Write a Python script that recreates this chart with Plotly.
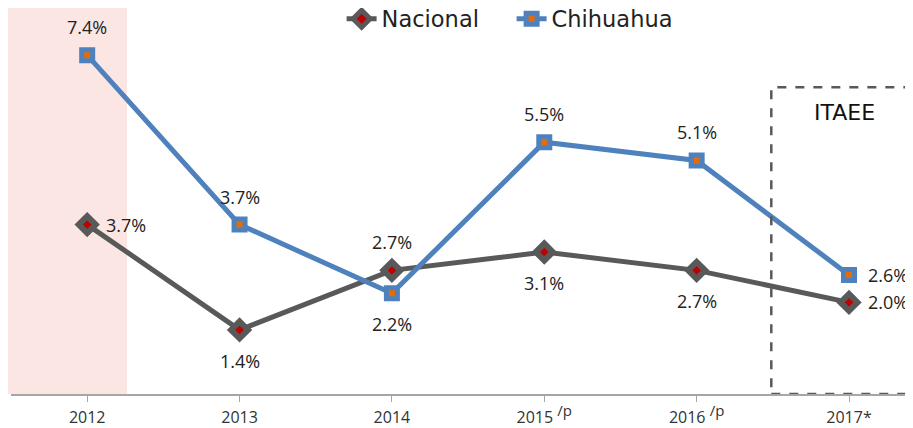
import plotly.graph_objects as go

years = ["2012", "2013", "2014", "2015", "2016", "2017"]
tick_labels = ["2012", "2013", "2014",
               "2015 <sup><span style='font-size:15px'>/p</span></sup>",
               "2016 <sup><span style='font-size:15px'>/p</span></sup>", "2017*"]
nacional = [3.7, 1.4, 2.7, 3.1, 2.7, 2.0]
chihuahua = [7.4, 3.7, 2.2, 5.5, 5.1, 2.6]
nac_pos = ["right", "below", "above", "below", "below", "right"]
chi_pos = ["above", "above", "below", "above", "above", "right"]

xi = list(range(len(years)))

fig = go.Figure()
fig.add_trace(go.Scatter(
    x=xi, y=nacional, name="Nacional", mode="lines+markers",
    line=dict(color="#595959", width=5),
    marker=dict(symbol="diamond", size=13, color="#C00000",
                line=dict(color="#595959", width=6)),
))
fig.add_trace(go.Scatter(
    x=xi, y=chihuahua, name="Chihuahua", mode="lines+markers",
    line=dict(color="#4F81BD", width=5),
    marker=dict(symbol="square", size=11, color="#E46C0A",
                line=dict(color="#4F81BD", width=5)),
))

def add_labels(vals, poss):
    for x, v, p in zip(xi, vals, poss):
        kw = dict(x=x, y=v, xref="x", yref="y", text=f"{v:.1f}%", showarrow=False,
                  font=dict(family="Open Sans", size=18, color="#222222"))
        if p == "above":
            kw.update(yshift=28)
        elif p == "below":
            kw.update(yshift=-31)
        else:
            kw.update(xshift=17, xanchor="left")
        fig.add_annotation(**kw)

add_labels(nacional, nac_pos)
add_labels(chihuahua, chi_pos)

# shaded 2012 band
fig.add_shape(type="rect", xref="paper", yref="paper", x0=-0.05, x1=(119 - 3) / 902, y0=0, y1=1.1,
              fillcolor="#FBE6E3", line=dict(width=0), layer="below")
# ITAEE dashed box
fig.add_shape(type="rect", xref="x", yref="y", x0=4.49, x1=5.6, y0=0, y1=6.7,
              line=dict(color="#595959", width=2.5, dash="dash"), fillcolor="rgba(0,0,0,0)")
fig.add_annotation(x=4.97, y=6.15, xref="x", yref="y", text="ITAEE", showarrow=False,
                   font=dict(family="DejaVu Sans", size=22, color="#111111"))

fig.update_layout(
    width=905, height=420,
    margin=dict(l=3, r=0, t=0, b=34, autoexpand=False),
    plot_bgcolor="white", paper_bgcolor="white",
    showlegend=True,
    legend=dict(orientation="h", x=0.555, xanchor="center", y=1.027, yanchor="top",
                font=dict(family="DejaVu Sans", size=22.5, color="#222222"),
                entrywidth=125, entrywidthmode="pixels",
                bgcolor="rgba(0,0,0,0)"),
    xaxis=dict(range=[-0.5, 5.42], tickmode="array", tickvals=xi, ticktext=tick_labels,
               automargin=False,
               showgrid=False, zeroline=False, showline=True, linecolor="#A6A6A6", linewidth=1.5,
               ticks="outside", ticklen=6, tickcolor="#A6A6A6", ticklabelstandoff=2,
               tickfont=dict(family="Open Sans", size=16, color="#333333")),
    yaxis=dict(range=[0, 8.43], showgrid=False, zeroline=False, showticklabels=False,
               showline=False, automargin=False),
)

fig.write_html("out.html")
